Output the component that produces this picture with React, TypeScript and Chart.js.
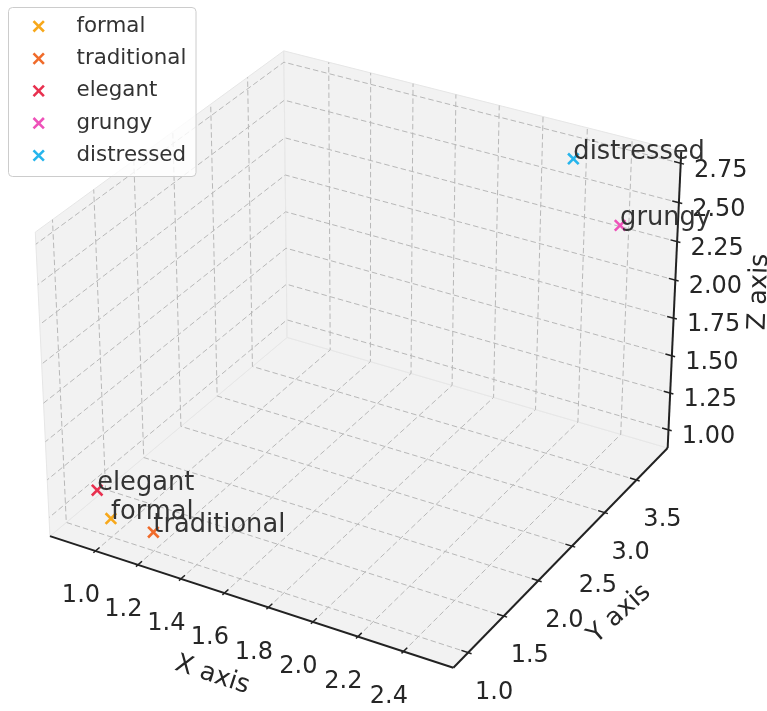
import React, { useEffect, useRef } from "react";
import { Chart, registerables } from "chart.js";

Chart.register(...registerables);

// ---------------- data ----------------
const labels = ["formal", "traditional", "elegant", "grungy", "distressed"];
const xValues = [1.0, 1.2, 0.9, 2.5, 2.2];
const yValues = [1.0, 1.0, 1.1, 3.5, 3.8];
const zValues = [1.0, 1.0, 1.1, 2.5, 2.7];
const colors = ["#f7a81b", "#f06b2a", "#e8304f", "#ee52b9", "#26b5ec"];

const xTicks = [1.0, 1.2, 1.4, 1.6, 1.8, 2.0, 2.2, 2.4];
const xTickLabels = ["1.0", "1.2", "1.4", "1.6", "1.8", "2.0", "2.2", "2.4"];
const yTicks = [1.0, 1.5, 2.0, 2.5, 3.0, 3.5];
const yTickLabels = ["1.0", "1.5", "2.0", "2.5", "3.0", "3.5"];
const zTicks = [1.0, 1.25, 1.5, 1.75, 2.0, 2.25, 2.5, 2.75];
const zTickLabels = ["1.00", "1.25", "1.50", "1.75", "2.00", "2.25", "2.50", "2.75"];

const xAxisTitle = "X axis";
const yAxisTitle = "Y axis";
const zAxisTitle = "Z axis";

// ---------------- 3D view (matplotlib-like) ----------------
const ELEV = 30;
const AZIM = -60;
const DIST = 10;
const MARGIN = 0.05;
const PANE_PAD = 1 / 48;

function paneRange(vals: number[]): [number, number] {
  const mn = Math.min(...vals);
  const mx = Math.max(...vals);
  const r = mx - mn;
  const lo = mn - MARGIN * r;
  const hi = mx + MARGIN * r;
  const s = hi - lo;
  return [lo - s * PANE_PAD, hi + s * PANE_PAD];
}
const PX = paneRange(xValues);
const PY = paneRange(yValues);
const PZ = paneRange(zValues);
const nX = (v: number) => (v - PX[0]) / (PX[1] - PX[0]);
const nY = (v: number) => (v - PY[0]) / (PY[1] - PY[0]);
const nZ = (v: number) => (v - PZ[0]) / (PZ[1] - PZ[0]);

const dot = (a: number[], b: number[]) => a[0] * b[0] + a[1] * b[1] + a[2] * b[2];
const cross = (a: number[], b: number[]) => [
  a[1] * b[2] - a[2] * b[1],
  a[2] * b[0] - a[0] * b[2],
  a[0] * b[1] - a[1] * b[0],
];
const unit = (a: number[]) => {
  const n = Math.hypot(a[0], a[1], a[2]);
  return a.map((x) => x / n);
};
const deg = Math.PI / 180;
const ASP = [4, 4, 3];
const ASPN = Math.hypot(ASP[0], ASP[1], ASP[2]);
const BOX = ASP.map((a) => (a * 1.8294640721620434 * 25) / 24 / ASPN);
const RC = BOX.map((b) => b / 2);
const PS = [
  Math.cos(ELEV * deg) * Math.cos(AZIM * deg),
  Math.cos(ELEV * deg) * Math.sin(AZIM * deg),
  Math.sin(ELEV * deg),
];
const EYE = RC.map((r, i) => r + DIST * PS[i]);
const W = unit(PS);
const U = unit(cross([0, 0, 1], W));
const V = cross(W, U);

function project(nx: number, ny: number, nz: number): [number, number] {
  const d = [nx * BOX[0] - EYE[0], ny * BOX[1] - EYE[1], nz * BOX[2] - EYE[2]];
  const zc = -dot(W, d);
  return [dot(U, d) / zc, dot(V, d) / zc];
}

// view window of the projection plane on the canvas
const CW = 767;
const CH = 711;
const VIEW_CX = 364.5;
const VIEW_CY = 344.5;
const VIEW_SX = 3882;
const VIEW_SY = 3880;

const FONT = '"DejaVu Sans", "Liberation Sans", sans-serif';
const TEXT = "#262626";

export default function App() {
  const ref = useRef<HTMLCanvasElement | null>(null);

  useEffect(() => {
    const canvas = ref.current;
    if (!canvas) return;

    const datasets = labels.map((lab, i) => {
      const [a, b] = project(nX(xValues[i]), nY(yValues[i]), nZ(zValues[i]));
      return {
        label: lab,
        data: [{ x: a, y: b }],
        pointStyle: "crossRot" as const,
        pointRadius: 7.5,
        pointHoverRadius: 7.5,
        pointBorderWidth: 2.6,
        borderColor: colors[i],
        backgroundColor: colors[i],
        showLine: false,
      };
    });

    const scene = {
      id: "scene3d",
      beforeDatasetsDraw(chart: any) {
        const ctx = chart.ctx as CanvasRenderingContext2D;
        const sx = chart.scales.x;
        const sy = chart.scales.y;
        const P = (nx: number, ny: number, nz: number): [number, number] => {
          const [a, b] = project(nx, ny, nz);
          return [sx.getPixelForValue(a), sy.getPixelForValue(b)];
        };
        const poly = (pts: number[][], close: boolean) => {
          ctx.beginPath();
          pts.forEach((p, k) => {
            const [x, y] = P(p[0], p[1], p[2]);
            if (k === 0) ctx.moveTo(x, y);
            else ctx.lineTo(x, y);
          });
          if (close) ctx.closePath();
        };
        ctx.save();
        // panes
        const panes = [
          [[0, 0, 0], [1, 0, 0], [1, 1, 0], [0, 1, 0]],
          [[0, 0, 0], [0, 1, 0], [0, 1, 1], [0, 0, 1]],
          [[0, 1, 0], [1, 1, 0], [1, 1, 1], [0, 1, 1]],
        ];
        panes.forEach((pn) => {
          poly(pn, true);
          ctx.fillStyle = "#f2f2f2";
          ctx.fill();
          ctx.strokeStyle = "#e6e6e6";
          ctx.lineWidth = 1;
          ctx.stroke();
        });
        // grid
        ctx.strokeStyle = "#b8b8b8";
        ctx.lineWidth = 1;
        ctx.setLineDash([5.5, 3]);
        xTicks.forEach((t) => {
          const n = nX(t);
          poly([[n, 0, 0], [n, 1, 0], [n, 1, 1]], false);
          ctx.stroke();
        });
        yTicks.forEach((t) => {
          const n = nY(t);
          poly([[1, n, 0], [0, n, 0], [0, n, 1]], false);
          ctx.stroke();
        });
        zTicks.forEach((t) => {
          const n = nZ(t);
          poly([[1, 1, n], [0, 1, n], [0, 0, n]], false);
          ctx.stroke();
        });
        ctx.setLineDash([]);
        // axis lines
        ctx.strokeStyle = "#222222";
        ctx.lineWidth = 2;
        ctx.lineCap = "butt";
        poly([[0, 0, 0], [1, 0, 0]], false);
        ctx.stroke();
        poly([[1, 0, 0], [1, 1, 0]], false);
        ctx.stroke();
        poly([[1, 1, 0], [1, 1, 1]], false);
        ctx.stroke();
        // ticks
        ctx.lineWidth = 1.5;
        const OUT = 0.008;
        const IN = 0.016;
        ctx.fillStyle = TEXT;
        ctx.font = `24px ${FONT}`;
        ctx.textAlign = "center";
        ctx.textBaseline = "middle";
        xTicks.forEach((t, i) => {
          const n = nX(t);
          poly([[n, -OUT, 0], [n, IN, 0]], false);
          ctx.stroke();
          const [x, y] = P(n, 0, 0);
          ctx.fillText(xTickLabels[i], x - 14.5, y + 45);
        });
        yTicks.forEach((t, i) => {
          const n = nY(t);
          poly([[1 + OUT, n, 0], [1 - IN, n, 0]], false);
          ctx.stroke();
          const [x, y] = P(1, n, 0);
          ctx.fillText(yTickLabels[i], x + 26, y + 40);
        });
        zTicks.forEach((t, i) => {
          const n = nZ(t);
          poly([[1 + OUT, 1, n], [1 - IN, 1, n]], false);
          ctx.stroke();
          const [x, y] = P(1, 1, n);
          ctx.fillText(zTickLabels[i], x + 40, y + 7);
        });
        // axis titles
        ctx.font = `25.5px ${FONT}`;
        const title = (txt: string, a: number[], b: number[], dx: number, dy: number, ang: number) => {
          const [x1, y1] = P(a[0], a[1], a[2]);
          const [x2, y2] = P(b[0], b[1], b[2]);
          const mid = P((a[0] + b[0]) / 2, (a[1] + b[1]) / 2, (a[2] + b[2]) / 2);
          let rot = ang;
          if (Number.isNaN(rot)) {
            rot = Math.atan2(y2 - y1, x2 - x1);
            if (rot > Math.PI / 2) rot -= Math.PI;
            if (rot < -Math.PI / 2) rot += Math.PI;
          }
          ctx.save();
          ctx.translate(mid[0] + dx, mid[1] + dy);
          ctx.rotate(rot);
          ctx.fillText(txt, 0, 0);
          ctx.restore();
        };
        title(xAxisTitle, [0, 0, 0], [1, 0, 0], -34, 75, NaN);
        title(yAxisTitle, [1, 0, 0], [1, 1, 0], 54, 61, -42 * deg);
        title(zAxisTitle, [1, 1, 0], [1, 1, 1], 85, -11, -88 * deg);
        ctx.restore();
      },
      afterDatasetsDraw(chart: any) {
        const ctx = chart.ctx as CanvasRenderingContext2D;
        const sx = chart.scales.x;
        const sy = chart.scales.y;
        ctx.save();
        // point annotations
        ctx.font = `25.7px ${FONT}`;
        ctx.fillStyle = "#333333";
        ctx.textAlign = "left";
        ctx.textBaseline = "alphabetic";
        labels.forEach((lab, i) => {
          const [a, b] = project(nX(xValues[i]), nY(yValues[i]), nZ(zValues[i]));
          ctx.fillText(lab, sx.getPixelForValue(a), sy.getPixelForValue(b));
        });
        // legend
        const lx = 8.5;
        const ly = 7.5;
        const lw = 187.5;
        const lh = 169;
        const r = 4;
        ctx.beginPath();
        ctx.moveTo(lx + r, ly);
        ctx.lineTo(lx + lw - r, ly);
        ctx.arcTo(lx + lw, ly, lx + lw, ly + r, r);
        ctx.lineTo(lx + lw, ly + lh - r);
        ctx.arcTo(lx + lw, ly + lh, lx + lw - r, ly + lh, r);
        ctx.lineTo(lx + r, ly + lh);
        ctx.arcTo(lx, ly + lh, lx, ly + lh - r, r);
        ctx.lineTo(lx, ly + r);
        ctx.arcTo(lx, ly, lx + r, ly, r);
        ctx.closePath();
        ctx.fillStyle = "rgba(255,255,255,0.8)";
        ctx.fill();
        ctx.strokeStyle = "#cccccc";
        ctx.lineWidth = 1;
        ctx.stroke();
        ctx.font = `21.4px ${FONT}`;
        ctx.textBaseline = "middle";
        labels.forEach((lab, i) => {
          const cy = 26.3 + i * 32.3;
          const cx = 38.7;
          const h = 5.2;
          ctx.strokeStyle = colors[i];
          ctx.lineWidth = 2.6;
          ctx.beginPath();
          ctx.moveTo(cx - h, cy - h);
          ctx.lineTo(cx + h, cy + h);
          ctx.moveTo(cx - h, cy + h);
          ctx.lineTo(cx + h, cy - h);
          ctx.stroke();
          ctx.fillStyle = "#333333";
          ctx.fillText(lab, 76.5, cy);
        });
        ctx.restore();
      },
    };

    const chart = new Chart(canvas, {
      type: "scatter",
      data: { datasets },
      options: {
        responsive: false,
        maintainAspectRatio: false,
        animation: false,
        devicePixelRatio: 1,
        events: [],
        layout: { padding: 0, autoPadding: false },
        plugins: {
          legend: { display: false },
          tooltip: { enabled: false },
        },
        scales: {
          x: {
            type: "linear",
            display: false,
            min: -VIEW_CX / VIEW_SX,
            max: (CW - VIEW_CX) / VIEW_SX,
          },
          y: {
            type: "linear",
            display: false,
            min: (VIEW_CY - CH) / VIEW_SY,
            max: VIEW_CY / VIEW_SY,
          },
        },
      },
      plugins: [scene],
    } as any);

    return () => chart.destroy();
  }, []);

  return (
    <canvas
      ref={ref}
      width={CW}
      height={CH}
      style={{ position: "absolute", left: 0, top: 0, width: CW, height: CH, background: "#ffffff" }}
    />
  );
}
